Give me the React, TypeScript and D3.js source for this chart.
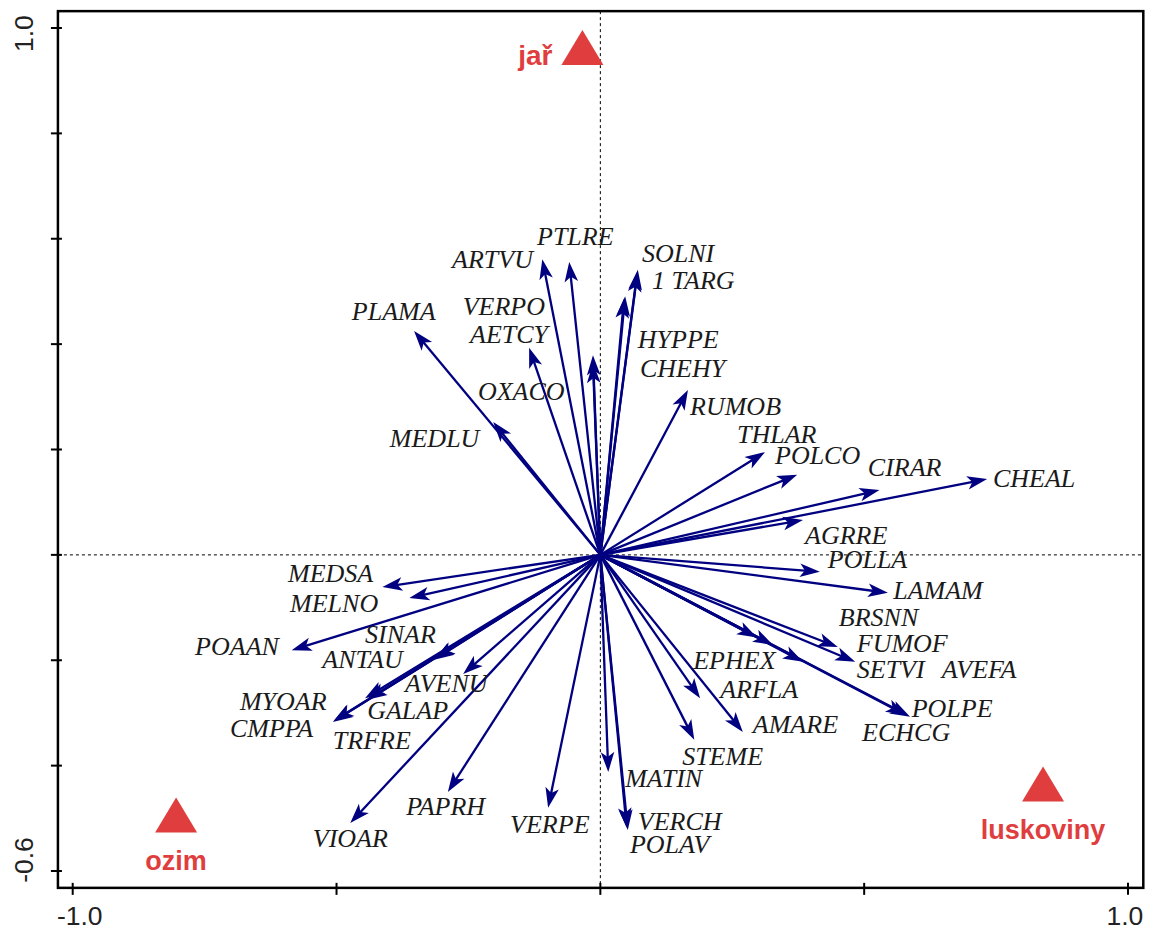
import React, { useEffect, useRef } from "react";
import * as d3 from "d3";

// species scores (arrow tips) on axis 1 / axis 2
const species = [
  "PTLRE", "ARTVU", "SOLNI", "1 TARG", "HYPPE", "CHEHY", "VERPO", "OXACO", "AETCY",
  "PLAMA", "MEDLU", "RUMOB", "THLAR", "POLCO", "CIRAR", "CHEAL", "AGRRE", "POLLA",
  "LAMAM", "EPHEX", "AVEFA", "BRSNN", "FUMOF", "SETVI", "POLPE", "ECHCG", "ARFLA",
  "AMARE", "STEME", "MATIN", "VERCH", "POLAV", "VERPE", "PAPRH", "VIOAR", "TRFRE",
  "CMPPA", "MYOAR", "GALAP", "AVENU", "SINAR", "ANTAU", "POAAN", "MELNO", "MEDSA",
];
const axis1 = [
  -0.059, -0.110, 0.071, 0.070, 0.047, 0.045, -0.014, -0.014, -0.135,
  -0.353, -0.203, 0.166, 0.312, 0.373, 0.529, 0.733, 0.384, 0.416,
  0.545, 0.297, 0.327, 0.384, 0.450, 0.483, 0.587, 0.579, 0.189,
  0.270, 0.178, 0.015, 0.052, 0.050, -0.099, -0.289, -0.474, -0.507,
  -0.505, -0.446, -0.442, -0.260, -0.313, -0.315, -0.585, -0.362, -0.413,
];
const axis2 = [
  0.556, 0.561, 0.541, 0.537, 0.491, 0.487, 0.379, 0.364, 0.393,
  0.425, 0.252, 0.313, 0.195, 0.152, 0.123, 0.144, 0.066, -0.032,
  -0.072, -0.157, -0.171, -0.203, -0.175, -0.203, -0.307, -0.304, -0.272,
  -0.336, -0.351, -0.412, -0.522, -0.518, -0.480, -0.450, -0.509, -0.317,
  -0.315, -0.272, -0.275, -0.226, -0.197, -0.199, -0.181, -0.082, -0.061,
];
// label anchors (left end of text, baseline) in the same axis units
const labelX = [
  -0.120, -0.281, 0.079, 0.098, 0.071, 0.075, -0.261, -0.232, -0.247,
  -0.471, -0.399, 0.170, 0.259, 0.331, 0.507, 0.744, 0.388, 0.431,
  0.555, 0.176, 0.647, 0.452, 0.486, 0.486, 0.590, 0.496, 0.227,
  0.289, 0.155, 0.047, 0.071, 0.056, -0.171, -0.368, -0.545, -0.507,
  -0.702, -0.683, -0.442, -0.370, -0.446, -0.527, -0.768, -0.588, -0.592,
];
const labelY = [
  0.588, 0.544, 0.556, 0.505, 0.393, 0.338, 0.455, 0.294, 0.402,
  0.446, 0.205, 0.265, 0.212, 0.172, 0.150, 0.129, 0.021, -0.025,
  -0.084, -0.217, -0.234, -0.135, -0.184, -0.234, -0.308, -0.353, -0.272,
  -0.338, -0.398, -0.440, -0.522, -0.566, -0.528, -0.494, -0.554, -0.368,
  -0.345, -0.294, -0.311, -0.260, -0.167, -0.215, -0.190, -0.108, -0.051,
];

// nominal variables (centroids)
const groups = ["jař", "ozim", "luskoviny"];
const groupX = [-0.034, -0.804, 0.839];
const groupY = [0.952, -0.505, -0.446];

const xTicks = [-1.0, -0.5, 0, 0.5, 1.0];
const yTicks = [1.0, 0.8, 0.6, 0.4, 0.2, 0, -0.2, -0.4, -0.6];
const xTickLabels = ["-1.0", "1.0"];
const yTickLabels = ["1.0", "-0.6"];

const W = 1155;
const H = 931;
const ARROW = "#000080";
const RED = "#e03e3e";

export default function App() {
  const ref = useRef<SVGSVGElement>(null);

  useEffect(() => {
    const svg = d3.select(ref.current);
    svg.selectAll("*").remove();

    const x = d3.scaleLinear().domain([-1, 1]).range([72.7, 1128]);
    const y = d3.scaleLinear().domain([-0.6, 1]).range([871, 28]);
    const frame = { x0: x(-1.028), x1: x(1.029), y0: y(1.032), y1: y(-0.632) };

    // zero lines
    svg.append("line")
      .attr("x1", x(0)).attr("x2", x(0)).attr("y1", frame.y0).attr("y2", frame.y1)
      .attr("stroke", "#000").attr("stroke-width", 1).attr("stroke-dasharray", "3,3");
    svg.append("line")
      .attr("x1", frame.x0).attr("x2", frame.x1).attr("y1", y(0)).attr("y2", y(0))
      .attr("stroke", "#000").attr("stroke-width", 1).attr("stroke-dasharray", "3,3");

    // frame
    svg.append("rect")
      .attr("x", frame.x0).attr("y", frame.y0)
      .attr("width", frame.x1 - frame.x0).attr("height", frame.y1 - frame.y0)
      .attr("fill", "none").attr("stroke", "#000").attr("stroke-width", 2.5);

    // ticks
    svg.selectAll("line.xt").data(xTicks).enter().append("line")
      .attr("class", "xt")
      .attr("x1", d => x(d)).attr("x2", d => x(d))
      .attr("y1", frame.y1 - 5).attr("y2", frame.y1 + 7)
      .attr("stroke", "#000").attr("stroke-width", 2);
    svg.selectAll("line.yt").data(yTicks).enter().append("line")
      .attr("class", "yt")
      .attr("x1", frame.x0 - 7).attr("x2", frame.x0 + 4)
      .attr("y1", d => y(d)).attr("y2", d => y(d))
      .attr("stroke", "#000").attr("stroke-width", 2);

    const tickFont = "'Liberation Sans', Arial, sans-serif";
    const tickSize = "26.5px";
    svg.append("text")
      .attr("x", frame.x0 - 1).attr("y", 925)
      .attr("text-anchor", "start")
      .style("font-family", tickFont).style("font-size", tickSize).attr("fill", "#222")
      .text(xTickLabels[0]);
    svg.append("text")
      .attr("x", frame.x1).attr("y", 925)
      .attr("text-anchor", "end")
      .style("font-family", tickFont).style("font-size", tickSize).attr("fill", "#222")
      .text(xTickLabels[1]);
    svg.append("text")
      .attr("transform", `translate(33,${frame.y0 + 4}) rotate(-90)`)
      .attr("text-anchor", "end")
      .style("font-family", tickFont).style("font-size", tickSize).attr("fill", "#222")
      .text(yTickLabels[0]);
    svg.append("text")
      .attr("transform", `translate(33,${frame.y1 - 5}) rotate(-90)`)
      .attr("text-anchor", "start")
      .style("font-family", tickFont).style("font-size", tickSize).attr("fill", "#222")
      .text(yTickLabels[1]);

    // species arrows
    const ox = x(0);
    const oy = y(0);
    const headLen = 20;
    const headW = 6.8;
    const notch = 5;
    const arrows = svg.append("g");
    species.forEach((name, i) => {
      const tx = x(axis1[i]);
      const ty = y(axis2[i]);
      const len = Math.hypot(tx - ox, ty - oy);
      const ux = (tx - ox) / len;
      const uy = (ty - oy) / len;
      const bx = tx - ux * headLen;
      const by = ty - uy * headLen;
      arrows.append("line")
        .attr("x1", ox).attr("y1", oy)
        .attr("x2", tx - ux * headLen * 0.6).attr("y2", ty - uy * headLen * 0.6)
        .attr("stroke", ARROW).attr("stroke-width", 2.3);
      arrows.append("path")
        .attr("d", `M${tx},${ty}L${bx - uy * headW},${by + ux * headW}L${bx + ux * notch},${by + uy * notch}L${bx + uy * headW},${by - ux * headW}Z`)
        .attr("fill", ARROW);
    });

    // species labels
    svg.selectAll("text.sp").data(species).enter().append("text")
      .attr("class", "sp")
      .attr("x", (d, i) => x(labelX[i]))
      .attr("y", (d, i) => y(labelY[i]))
      .style("font-family", "'Liberation Serif', 'Times New Roman', serif")
      .style("font-style", "italic")
      .style("font-size", "26px")
      .attr("fill", "#1a1a1a")
      .text(d => d);

    // centroids of nominal variables
    const tw = 42;
    const th = 35;
    groups.forEach((g, i) => {
      const cx = x(groupX[i]);
      const cy = y(groupY[i]);
      svg.append("path")
        .attr("d", `M${cx},${cy - (2 * th) / 3}L${cx + tw / 2},${cy + th / 3}L${cx - tw / 2},${cy + th / 3}Z`)
        .attr("fill", RED);
      const lbl = svg.append("text")
        .style("font-family", "'Liberation Sans', Arial, sans-serif")
        .style("font-weight", "bold")
        .style("font-size", "27px")
        .attr("fill", RED)
        .text(g);
      if (i === 0) {
        lbl.attr("x", cx - tw / 2 - 9).attr("y", cy + th / 3).attr("text-anchor", "end")
          .style("font-size", "28px");
      } else {
        lbl.attr("x", cx).attr("y", cy + th / 3 + 37).attr("text-anchor", "middle");
      }
    });
  }, []);

  return (
    <svg
      ref={ref}
      width={W}
      height={H}
      style={{ position: "absolute", left: 0, top: 0, background: "#fff", display: "block" }}
    />
  );
}
